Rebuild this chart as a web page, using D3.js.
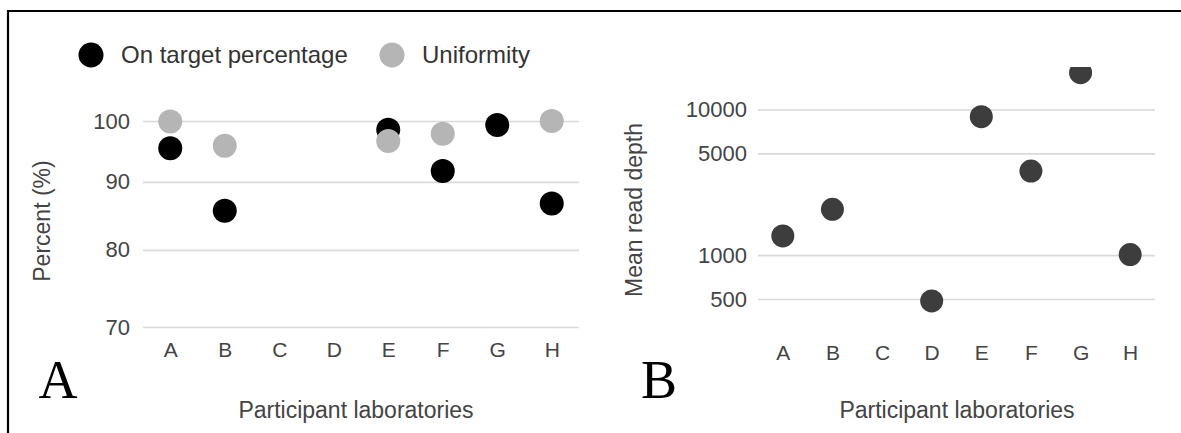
<!DOCTYPE html>
<html lang="en">
<head>
    <meta charset="UTF-8">
    <title>Participant laboratories</title>
    <script src="https://d3js.org/d3.v7.min.js"></script>
    <style>
        body {
            margin: 0;
            background: #fff;
        }
        svg {
            display: block;
            font-family: "Liberation Sans", Arial, sans-serif;
        }
        .tick line {
            stroke: #d9d9d9;
            stroke-width: 1.6;
        }
        .tick text {
            fill: #444;
        }
        .axis-title {
            fill: #444;
            font-size: 23px;
        }
        .panel-letter {
            font-family: "Liberation Serif", "Times New Roman", serif;
            font-size: 54px;
            fill: #000;
        }
    </style>
</head>
<body>
<div id="chart"></div>
<script>
    // data
    const labs = ["A", "B", "C", "D", "E", "F", "G", "H"];
    const onTarget = [95.4, 85.6, null, null, 98.5, 91.7, 99.3, 86.7];
    const uniformity = [99.9, 95.8, null, null, 96.6, 97.8, null, 100];
    const readDepth = [1355, 2065, null, 485, 8925, 3780, 17900, 1010];
    const pctTicks = [70, 80, 90, 100];
    const depthTicks = [500, 1000, 5000, 10000];

    const W = 1181, H = 433;

    const svg = d3.select("#chart")
        .append("svg")
        .attr("width", W)
        .attr("height", H);

    // frame (top and left edges visible)
    svg.append("line")
        .attr("x1", 7).attr("x2", W).attr("y1", 11).attr("y2", 11)
        .attr("stroke", "#000").attr("stroke-width", 2.2);
    svg.append("line")
        .attr("x1", 8).attr("x2", 8).attr("y1", 11).attr("y2", H)
        .attr("stroke", "#000").attr("stroke-width", 2.2);

    // ---------- Panel A ----------
    const xA = d3.scalePoint().domain(labs).range([143, 579]).padding(0.5);
    const yA = d3.scaleLog().domain([70, 100]).range([327, 121]);

    const gyA = svg.append("g")
        .attr("transform", "translate(143,0)")
        .call(d3.axisLeft(yA).tickValues(pctTicks).tickFormat(d3.format("d"))
            .tickSize(-(579 - 143)).tickPadding(13));
    gyA.select(".domain").remove();
    gyA.selectAll("text").style("font-size", "22px");

    const gxA = svg.append("g")
        .attr("transform", "translate(0,342)")
        .call(d3.axisBottom(xA).tickSize(0).tickPadding(0));
    gxA.select(".domain").remove();
    gxA.selectAll("text").style("font-size", "21px");

    const seriesA = [
        { name: "On target percentage", values: onTarget, color: "#000" },
        { name: "Uniformity", values: uniformity, color: "#b5b5b5" }
    ];

    seriesA.forEach(s => {
        svg.append("g").selectAll("circle")
            .data(labs.map((l, i) => ({ lab: l, v: s.values[i] })).filter(d => d.v != null))
            .enter()
            .append("circle")
            .attr("cx", d => xA(d.lab))
            .attr("cy", d => yA(d.v))
            .attr("r", 12)
            .attr("fill", s.color);
    });

    // legend
    const legend = svg.append("g");
    const legX = [91, 392];
    seriesA.forEach((s, i) => {
        legend.append("circle")
            .attr("cx", legX[i]).attr("cy", 55).attr("r", 12.5)
            .attr("fill", s.color);
        legend.append("text")
            .attr("x", legX[i] + 30).attr("y", 63)
            .style("font-size", "24px")
            .attr("fill", "#333")
            .text(s.name);
    });

    svg.append("text")
        .attr("class", "axis-title")
        .attr("transform", "translate(50,221) rotate(-90)")
        .attr("text-anchor", "middle")
        .text("Percent (%)");

    svg.append("text")
        .attr("class", "axis-title")
        .attr("x", 356).attr("y", 418)
        .attr("text-anchor", "middle")
        .text("Participant laboratories");

    svg.append("text")
        .attr("class", "panel-letter")
        .attr("x", 58).attr("y", 398)
        .attr("text-anchor", "middle")
        .text("A");

    // ---------- Panel B ----------
    const xB = d3.scalePoint().domain(labs).range([758, 1155]).padding(0.5);
    const yB = d3.scaleLog().domain([500, 10000]).range([299, 109.5]);

    svg.append("clipPath").attr("id", "clipB")
        .append("rect")
        .attr("x", 758).attr("y", 67)
        .attr("width", 1155 - 758).attr("height", 330 - 67);

    const gyB = svg.append("g")
        .attr("transform", "translate(758,0)")
        .call(d3.axisLeft(yB).tickValues(depthTicks).tickFormat(d3.format("d"))
            .tickSize(-(1155 - 758)).tickPadding(11));
    gyB.select(".domain").remove();
    gyB.selectAll("text").style("font-size", "22px");

    const gxB = svg.append("g")
        .attr("transform", "translate(0,345)")
        .call(d3.axisBottom(xB).tickSize(0).tickPadding(0));
    gxB.select(".domain").remove();
    gxB.selectAll("text").style("font-size", "21px");

    svg.append("g")
        .attr("clip-path", "url(#clipB)")
        .selectAll("circle")
        .data(labs.map((l, i) => ({ lab: l, v: readDepth[i] })).filter(d => d.v != null))
        .enter()
        .append("circle")
        .attr("cx", d => xB(d.lab))
        .attr("cy", d => yB(d.v))
        .attr("r", 11.5)
        .attr("fill", "#3d3d3d");

    svg.append("text")
        .attr("class", "axis-title")
        .attr("transform", "translate(642,210) rotate(-90)")
        .attr("text-anchor", "middle")
        .text("Mean read depth");

    svg.append("text")
        .attr("class", "axis-title")
        .attr("x", 957).attr("y", 418)
        .attr("text-anchor", "middle")
        .text("Participant laboratories");

    svg.append("text")
        .attr("class", "panel-letter")
        .attr("x", 659).attr("y", 398)
        .attr("text-anchor", "middle")
        .text("B");
</script>
</body>
</html>
